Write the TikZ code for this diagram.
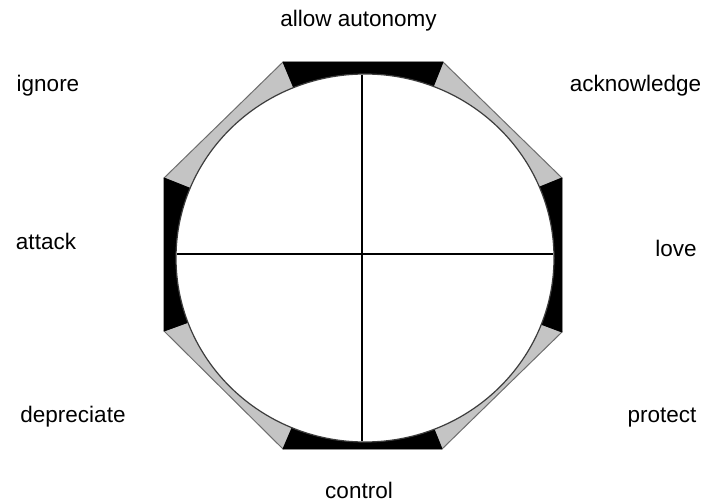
\documentclass[tikz,border=0pt]{standalone}
\usepackage{fontspec}
\setmainfont{Liberation Sans}
\begin{document}
\begin{tikzpicture}[x=1pt,y=-1pt,
  lbl/.style={anchor=base,inner sep=0pt,font=\fontsize{22.5}{26}\selectfont},
  blk/.style={fill=black,draw=black,line width=0.8pt,line join=round},
  gry/.style={fill={rgb,255:red,196;green,196;blue,196},draw={rgb,255:red,110;green,110;blue,110},line width=1pt,line join=round},
  ring/.style={fill=white,draw={rgb,255:red,60;green,60;blue,60},line width=1.2pt},
  axis/.style={draw=black,line width=1.1pt}]
\useasboundingbox (0,0) rectangle (708,502);
% octagon vertices
\coordinate (O) at (365,258);
\coordinate (A) at (283,62);
\coordinate (B) at (443,62);
\coordinate (C) at (562,178);
\coordinate (D) at (562,332);
\coordinate (E) at (442,449);
\coordinate (F) at (283,449);
\coordinate (G) at (164,331);
\coordinate (H) at (164,178);
% sectors
\path[gry] (O) -- (B) -- (C) -- cycle;
\path[gry] (O) -- (D) -- (E) -- cycle;
\path[gry] (O) -- (F) -- (G) -- cycle;
\path[gry] (O) -- (H) -- (A) -- cycle;
\path[blk] (O) -- (A) -- (B) -- cycle;
\path[blk] (O) -- (C) -- (D) -- cycle;
\path[blk] (O) -- (E) -- (F) -- cycle;
\path[blk] (O) -- (G) -- (H) -- cycle;
% circle
\path[ring] (O) ellipse [x radius=189, y radius=184];
% axes
\coordinate (T) at (362,75);
\coordinate (Bt) at (362,441);
\coordinate (L) at (177,254);
\coordinate (R) at (553,254);
\draw[axis] (T) -- (Bt);
\draw[axis] (L) -- (R);
% labels
\node[lbl] (n1) at (358.5,27) {allow autonomy};
\node[lbl] (n2) at (48,92) {ignore};
\node[lbl] (n3) at (635.5,92) {acknowledge};
\node[lbl] (n4) at (46,250) {attack};
\node[lbl] (n5) at (676,256) {love};
\node[lbl] (n6) at (73,422) {depreciate};
\node[lbl] (n7) at (662,422) {protect};
\node[lbl] (n8) at (359,498) {control};
\end{tikzpicture}
\end{document}
